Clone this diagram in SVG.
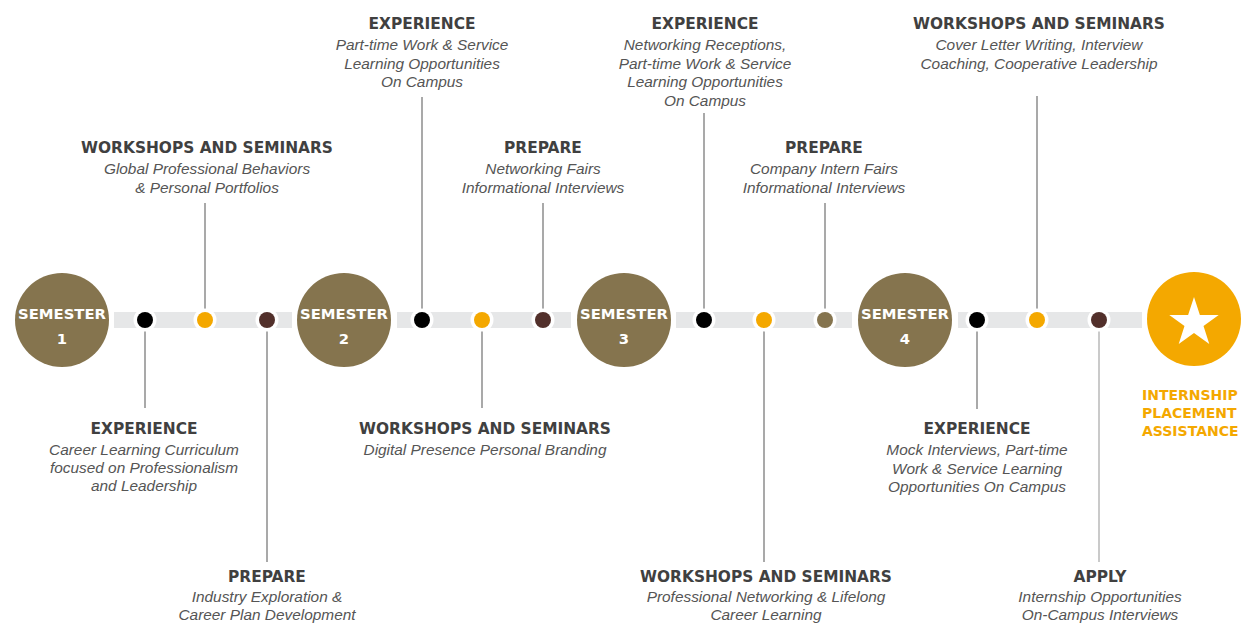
<svg xmlns="http://www.w3.org/2000/svg" width="1243" height="624" viewBox="0 0 1243 624">
<style>
.h{font-family:"DejaVu Sans","Liberation Sans",sans-serif;font-weight:bold;font-size:15.4px;fill:#404040;text-anchor:middle}
.b{font-family:"Liberation Sans","DejaVu Sans",sans-serif;font-style:italic;font-size:15.4px;fill:#555;text-anchor:middle}
.sem{fill:#85744E}
.st{font-family:"DejaVu Sans","Liberation Sans",sans-serif;font-weight:bold;font-size:14.8px;fill:#fff;text-anchor:middle}
.bar{fill:#E6E7E8}
.ring{fill:#fff}
.ln{stroke:#8c8c8c;stroke-width:1.5;fill:none}
.io{font-family:"DejaVu Sans","Liberation Sans",sans-serif;font-weight:bold;font-size:14px;fill:#F4A800}
</style>
<rect width="1243" height="624" fill="#fff"/>
<g id="bar">
<rect class="bar" x="114" y="312" width="178" height="16"/>
<rect class="bar" x="397" y="312" width="174" height="16"/>
<rect class="bar" x="676" y="312" width="176" height="16"/>
<rect class="bar" x="958" y="312" width="184" height="16"/>
</g>
<g id="connectors">
<line class="ln" x1="145" y1="320" x2="145" y2="408"/>
<line class="ln" x1="205" y1="203" x2="205" y2="320"/>
<line class="ln" x1="267" y1="320" x2="267" y2="562"/>
<line class="ln" x1="422" y1="97" x2="422" y2="320"/>
<line class="ln" x1="482" y1="320" x2="482" y2="408"/>
<line class="ln" x1="543" y1="203" x2="543" y2="320"/>
<line class="ln" x1="704" y1="113" x2="704" y2="320"/>
<line class="ln" x1="764" y1="320" x2="764" y2="562"/>
<line class="ln" x1="825" y1="203" x2="825" y2="320"/>
<line class="ln" x1="977" y1="320" x2="977" y2="409"/>
<line class="ln" x1="1037" y1="96" x2="1037" y2="320"/>
<line class="ln" x1="1099" y1="320" x2="1099" y2="562" style="stroke:#b8b8b8"/>
</g>
<g id="dots">
<circle class="ring" cx="145" cy="320" r="11.5"/><circle cx="145" cy="320" r="8" fill="#000"/>
<circle class="ring" cx="205" cy="320" r="11.5"/><circle cx="205" cy="320" r="8" fill="#F4A800"/>
<circle class="ring" cx="267" cy="320" r="11.5"/><circle cx="267" cy="320" r="8" fill="#52302B"/>
<circle class="ring" cx="422" cy="320" r="11.5"/><circle cx="422" cy="320" r="8" fill="#000"/>
<circle class="ring" cx="482" cy="320" r="11.5"/><circle cx="482" cy="320" r="8" fill="#F4A800"/>
<circle class="ring" cx="543" cy="320" r="11.5"/><circle cx="543" cy="320" r="8" fill="#52302B"/>
<circle class="ring" cx="704" cy="320" r="11.5"/><circle cx="704" cy="320" r="8" fill="#000"/>
<circle class="ring" cx="764" cy="320" r="11.5"/><circle cx="764" cy="320" r="8" fill="#F4A800"/>
<circle class="ring" cx="825" cy="320" r="11.5"/><circle cx="825" cy="320" r="8" fill="#85744E"/>
<circle class="ring" cx="977" cy="320" r="11.5"/><circle cx="977" cy="320" r="8" fill="#000"/>
<circle class="ring" cx="1037" cy="320" r="11.5"/><circle cx="1037" cy="320" r="8" fill="#F4A800"/>
<circle class="ring" cx="1099" cy="320" r="11.5"/><circle cx="1099" cy="320" r="8" fill="#52302B"/>
</g>
<g id="semester1"><circle class="sem" cx="62" cy="320" r="47"/><text class="st" x="62" y="319">SEMESTER</text><text class="st" x="62" y="344">1</text></g>
<g id="semester2"><circle class="sem" cx="344" cy="320" r="47"/><text class="st" x="344" y="319">SEMESTER</text><text class="st" x="344" y="344">2</text></g>
<g id="semester3"><circle class="sem" cx="624" cy="320" r="47"/><text class="st" x="624" y="319">SEMESTER</text><text class="st" x="624" y="344">3</text></g>
<g id="semester4"><circle class="sem" cx="905" cy="320" r="47"/><text class="st" x="905" y="319">SEMESTER</text><text class="st" x="905" y="344">4</text></g>
<g id="internship">
<circle cx="1194" cy="319" r="47" fill="#F4A800"/>
<polygon fill="#fff" points="1194,297 1199.88,314.91 1218.73,314.97 1203.51,326.09 1209.28,344.03 1194,333 1178.72,344.03 1184.49,326.09 1169.27,314.97 1188.12,314.91"/>
<text class="io" x="1142" y="399.5">INTERNSHIP</text>
<text class="io" x="1142" y="417.5">PLACEMENT</text>
<text class="io" x="1142" y="435.5">ASSISTANCE</text>
</g>
<g id="s1-workshops"><text class="h" x="207" y="153">WORKSHOPS AND SEMINARS</text><text class="b" x="207" y="174">Global Professional Behaviors</text><text class="b" x="207" y="192.5">&amp; Personal Portfolios</text></g>
<g id="s1-experience"><text class="h" x="144" y="434">EXPERIENCE</text><text class="b" x="144" y="454.5">Career Learning Curriculum</text><text class="b" x="144" y="473">focused on Professionalism</text><text class="b" x="144" y="491">and Leadership</text></g>
<g id="s1-prepare"><text class="h" x="267" y="581.5">PREPARE</text><text class="b" x="267" y="601.5">Industry Exploration &amp;</text><text class="b" x="267" y="620">Career Plan Development</text></g>
<g id="s2-experience"><text class="h" x="422" y="28.5">EXPERIENCE</text><text class="b" x="422" y="50">Part-time Work &amp; Service</text><text class="b" x="422" y="68.5">Learning Opportunities</text><text class="b" x="422" y="86.5">On Campus</text></g>
<g id="s2-workshops"><text class="h" x="485" y="434">WORKSHOPS AND SEMINARS</text><text class="b" x="485" y="454.5">Digital Presence Personal Branding</text></g>
<g id="s2-prepare"><text class="h" x="543" y="153">PREPARE</text><text class="b" x="543" y="174">Networking Fairs</text><text class="b" x="543" y="192.5">Informational Interviews</text></g>
<g id="s3-experience"><text class="h" x="705" y="28.5">EXPERIENCE</text><text class="b" x="705" y="50">Networking Receptions,</text><text class="b" x="705" y="68.5">Part-time Work &amp; Service</text><text class="b" x="705" y="87">Learning Opportunities</text><text class="b" x="705" y="105.5">On Campus</text></g>
<g id="s3-workshops"><text class="h" x="766" y="581.5">WORKSHOPS AND SEMINARS</text><text class="b" x="766" y="601.5">Professional Networking &amp; Lifelong</text><text class="b" x="766" y="620">Career Learning</text></g>
<g id="s3-prepare"><text class="h" x="824" y="153">PREPARE</text><text class="b" x="824" y="174">Company Intern Fairs</text><text class="b" x="824" y="192.5">Informational Interviews</text></g>
<g id="s4-experience"><text class="h" x="977" y="434">EXPERIENCE</text><text class="b" x="977" y="455">Mock Interviews, Part-time</text><text class="b" x="977" y="473.5">Work &amp; Service Learning</text><text class="b" x="977" y="492">Opportunities On Campus</text></g>
<g id="s4-workshops"><text class="h" x="1039" y="28.5">WORKSHOPS AND SEMINARS</text><text class="b" x="1039" y="50">Cover Letter Writing, Interview</text><text class="b" x="1039" y="68.5">Coaching, Cooperative Leadership</text></g>
<g id="s4-apply"><text class="h" x="1100" y="581.5">APPLY</text><text class="b" x="1100" y="601.5">Internship Opportunities</text><text class="b" x="1100" y="620">On-Campus Interviews</text></g>
</svg>
